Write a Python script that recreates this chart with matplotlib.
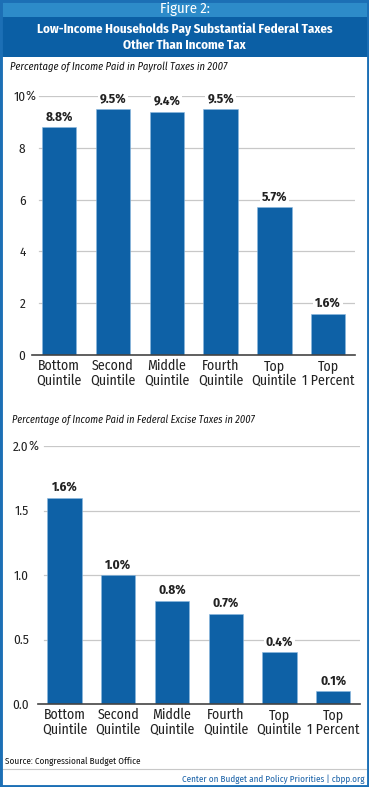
import matplotlib
matplotlib.use("Agg")
import matplotlib.pyplot as plt
from matplotlib.patches import Rectangle
from matplotlib.lines import Line2D

# data
categories = ["Bottom\nQuintile", "Second\nQuintile", "Middle\nQuintile",
              "Fourth\nQuintile", "Top\nQuintile", "Top\n1 Percent"]
payroll = [8.8, 9.5, 9.4, 9.5, 5.7, 1.6]
excise = [1.6, 1.0, 0.8, 0.7, 0.4, 0.1]
payroll_ticks = [0, 2, 4, 6, 8, 10]
excise_ticks = [0.0, 0.5, 1.0, 1.5, 2.0]

W, H = 369, 787
BAR = "#0e61a6"
FONT = ["Fira Sans Condensed", "PT Sans Narrow", "DejaVu Sans"]
plt.rcParams["font.family"] = FONT

fig = plt.figure(figsize=(W / 100, H / 100), dpi=100)
fig.patch.set_facecolor("white")


def px_box(x0, y0, x1, y1):
    # pixel box (top-left origin) -> figure fraction rect
    return [x0 / W, 1 - y1 / H, (x1 - x0) / W, (y1 - y0) / H]


# header bands and frame
fig.patches.append(Rectangle((0, 1 - 17 / H), 1, 17 / H, transform=fig.transFigure,
                             facecolor="#2d8bc9", edgecolor="none", zorder=1))
fig.patches.append(Rectangle((0, 1 - 57 / H), 1, 40 / H, transform=fig.transFigure,
                             facecolor="#0b5fa5", edgecolor="none", zorder=1))
fig.patches.append(Rectangle((0, 0), 1, 1, transform=fig.transFigure,
                             facecolor="none", edgecolor="#1c6fb5", lw=3.5, zorder=10))
fig.text(0.5, 1 - 9 / H, "Figure 2:", color="white", fontsize=10.5,
         ha="center", va="center", zorder=11)
fig.text(0.5, 1 - 37 / H, "Low-Income Households Pay Substantial Federal Taxes\nOther Than Income Tax",
         color="white", fontsize=9.3, fontweight="bold", ha="center", va="center",
         linespacing=1.3, zorder=11)


def draw_panel(ax, values, ticks, top, fmt, val_fmt, num_pad, pct_off):
    x = range(len(values))
    ax.bar(x, values, width=0.64, color=BAR, edgecolor="#8ab8e0", linewidth=0.4, zorder=3)
    ax.set_xlim(-0.5, len(values) - 0.5)
    ax.set_ylim(0, top)
    ax.set_yticks(ticks)
    ax.set_yticklabels([fmt.format(t) for t in ticks], fontsize=9.5, color="#222222")
    ax.tick_params(axis="y", length=0, pad=num_pad)
    ax.tick_params(axis="x", length=0, pad=3)
    ax.set_xticks(list(x))
    ax.set_xticklabels(categories, fontsize=10, color="#222222", linespacing=1.0)
    for s in ["top", "right", "left"]:
        ax.spines[s].set_visible(False)
    ax.spines["bottom"].set_color("#444444")
    ax.spines["bottom"].set_linewidth(1.2)
    ax.spines["bottom"].set_zorder(4)
    for t in ticks[1:]:
        ax.axhline(t, xmin=0.02, xmax=1, color="#c8c8c8", linewidth=0.9, zorder=0)
    # percent sign after the top tick
    ax.annotate("%", xy=(0, top), xycoords=("axes fraction", "data"),
                xytext=(pct_off, 0), textcoords="offset pixels",
                ha="left", va="center", fontsize=9.5, color="#222222")
    for i, v in enumerate(values):
        ax.annotate(val_fmt.format(v), xy=(i, v), xytext=(0, 3), textcoords="offset points",
                    ha="center", va="bottom", fontsize=9.5, fontweight="bold", color="#222222",
                    bbox=dict(boxstyle="square,pad=0.15", fc="white", ec="none"), zorder=5)


ax1 = fig.add_axes(px_box(32.4, 96, 355, 355))
draw_panel(ax1, payroll, payroll_ticks, 10, "{:g}", "{:.1f}%", 5, -7)
fig.text(10 / W, 1 - 67 / H, "Percentage of Income Paid in Payroll Taxes in 2007",
         fontsize=7.6, style="italic", color="#111111", ha="left", va="center")

ax2 = fig.add_axes(px_box(37.7, 446, 360, 704))
draw_panel(ax2, excise, excise_ticks, 2.0, "{:.1f}", "{:.1f}%", 6.5, -9.5)
fig.text(12 / W, 1 - 420 / H, "Percentage of Income Paid in Federal Excise Taxes in 2007",
         fontsize=7.4, style="italic", color="#111111", ha="left", va="center")

# footer
fig.text(5 / W, 1 - 761 / H, "Source: Congressional Budget Office", fontsize=6.5,
         color="#111111", ha="left", va="center")
fig.lines.append(Line2D([3 / W, 1 - 3 / W], [1 - 769 / H] * 2, transform=fig.transFigure,
                        color="#c8c8c8", lw=0.8))
fig.text(1 - 5 / W, 1 - 779 / H, "Center on Budget and Policy Priorities | cbpp.org",
         fontsize=6.5, color="#1a62a8", ha="right", va="center")

fig.savefig("out.png", dpi=100)
